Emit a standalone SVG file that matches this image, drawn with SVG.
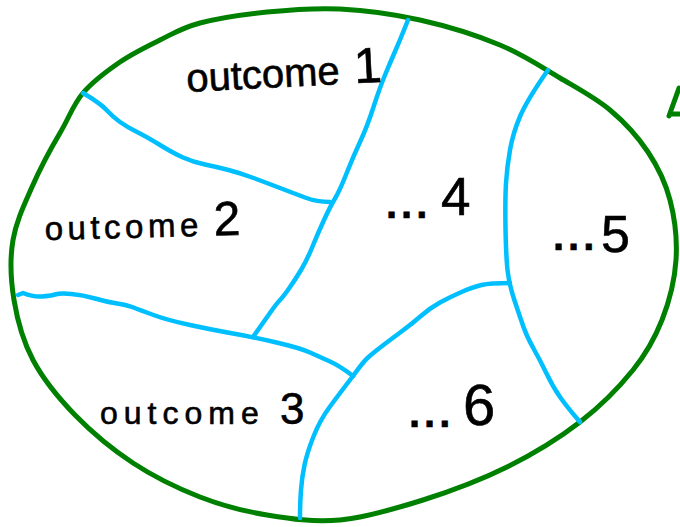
<svg xmlns="http://www.w3.org/2000/svg" width="680" height="527" viewBox="0 0 680 527">
  <style>
    .outline { fill: none; stroke: #008000; stroke-width: 5; stroke-linecap: round; stroke-linejoin: round; }
    .part { fill: none; stroke: #00BFFF; stroke-width: 4.5; stroke-linecap: round; stroke-linejoin: round; }
    .lbl { font-family: "Liberation Sans", "DejaVu Sans", sans-serif; fill: #000; stroke: #000; stroke-width: 0.6; }
    .dots { font-weight: bold; letter-spacing: 4px; }
  </style>
  <rect width="680" height="527" fill="#ffffff"/>

  <g id="sample-space">
    <path class="outline" d="M340,9 C365.5,10.3 393.3,14 420,20 C446.7,26 476.7,35.3 500,45 C523.3,54.7 541.7,67.2 560,78 C578.3,88.8 595.3,97.7 610,110 C624.7,122.3 638,137 648,152 C658,167 665.3,182 670,200 C674.7,218 677.3,240 676,260 C674.7,280 669.2,301.7 662,320 C654.8,338.3 646.7,353 633,370 C619.3,387 601,405.8 580,422 C559,438.2 533.2,454 507,467 C480.8,480 450.8,491.2 423,500 C395.2,508.8 366,517.5 340,520 C314,522.5 290.3,518.8 267,515 C243.7,511.2 222.3,505.7 200,497 C177.7,488.3 153.8,476.7 133,463 C112.2,449.3 91.7,432.2 75,415 C58.3,397.8 43.2,379.2 33,360 C22.8,340.8 17.3,320 14,300 C10.7,280 9.8,258.8 13,240 C16.2,221.2 24.2,204.8 32,187 C39.8,169.2 50.7,148.7 60,133 C69.3,117.3 73,104.8 83,93 C93,81.2 107.2,70.8 120,62 C132.8,53.2 146.7,46.5 160,40 C173.3,33.5 182.2,27.7 200,23 C217.8,18.3 243.7,14.3 267,12 C290.3,9.7 314.5,7.7 340,9 Z"/>
    <path class="outline" d="M669,116 L679,88 M670,114 L680,114" stroke-width="4"/>
  </g>

  <g id="connectors">
    <path class="part" d="M83,93 Q100,103 106.5,110 Q113,117 120,122 Q127,127 137,132 Q147,137 160,145 Q173,153 183,157.5 Q193,162 205,164.5 Q217,167 228.5,170 Q240,173 253.5,178 Q267,183 280,188 Q293,193 305,197.5 Q317,202 330,202"/>
    <path class="part" d="M408,20 L404,30 Q400,40 395,51.5 Q390,63 385,75 Q380,87 373.5,107 Q367,127 360,142 Q353,157 346.5,173.5 Q340,190 335,198.5 Q330,207 324,220 Q318,233 312.5,246.5 Q307,260 301,270 Q295,280 289,288.5 Q283,297 280,300 Q277,303 271,311.5 Q265,320 253,337"/>
    <path class="part" d="M18,295 L23,293 Q33,297 41.5,296.5 Q50,296 55,294.5 Q60,293 71.5,294 Q83,295 95,298.5 Q107,302 117,303.5 Q127,305 133.5,307.5 Q140,310 153.5,315 Q167,320 190,325 Q213,330 233,333.5 Q253,337 276.5,342.5 Q300,348 310,352.5 Q320,357 330,361.5 Q340,366 353,376"/>
    <path class="part" d="M353,376 L346.5,384.5 Q340,393 330,406.5 Q320,420 313.5,436.5 Q307,453 304.5,465 Q302,477 301,490 Q300,503 300,518"/>
    <path class="part" d="M353,376 Q363,362 368,357.5 Q373,353 381.5,346.5 Q390,340 401.5,331.5 Q413,323 421.5,315.5 Q430,308 440,302.5 Q450,297 461.5,292 Q473,287 481.5,285 Q490,283 510,283"/>
    <path class="part" d="M548,70 Q527,100 520,116.5 Q513,133 510,150 Q507,167 506,183.5 Q505,200 505.5,228 Q506,256 507.5,270 Q509,284 514.5,300.5 Q520,317 523.5,327 Q527,337 533.5,348.5 Q540,360 546.5,373.5 Q553,387 560,397 Q567,407 580,422"/>
  </g>

  <g id="outcome1">
    <text class="lbl" x="187" y="92" font-size="40" transform="rotate(-3 187 92)">outcome<tspan x="355" font-size="50">1</tspan></text>
  </g>
  <g id="outcome2">
    <text class="lbl" x="45" y="240" font-size="33" letter-spacing="4.5" transform="rotate(-1.5 45 240)">outcome <tspan x="214" font-size="48" letter-spacing="0">2</tspan></text>
  </g>
  <g id="outcome3">
    <text class="lbl" x="100" y="424" font-size="32" letter-spacing="6">outcome<tspan x="280" font-size="44" letter-spacing="0">3</tspan></text>
  </g>
  <g id="outcome4">
    <text class="lbl" x="386" y="218" font-size="40"><tspan class="dots">...</tspan><tspan x="441" y="215" font-size="53">4</tspan></text>
  </g>
  <g id="outcome5">
    <text class="lbl" x="553" y="250" font-size="40"><tspan class="dots">...</tspan><tspan x="601" y="252" font-size="52">5</tspan></text>
  </g>
  <g id="outcome6">
    <text class="lbl" x="409" y="427" font-size="40"><tspan class="dots">...</tspan><tspan x="463" y="425" font-size="58">6</tspan></text>
  </g>
</svg>
